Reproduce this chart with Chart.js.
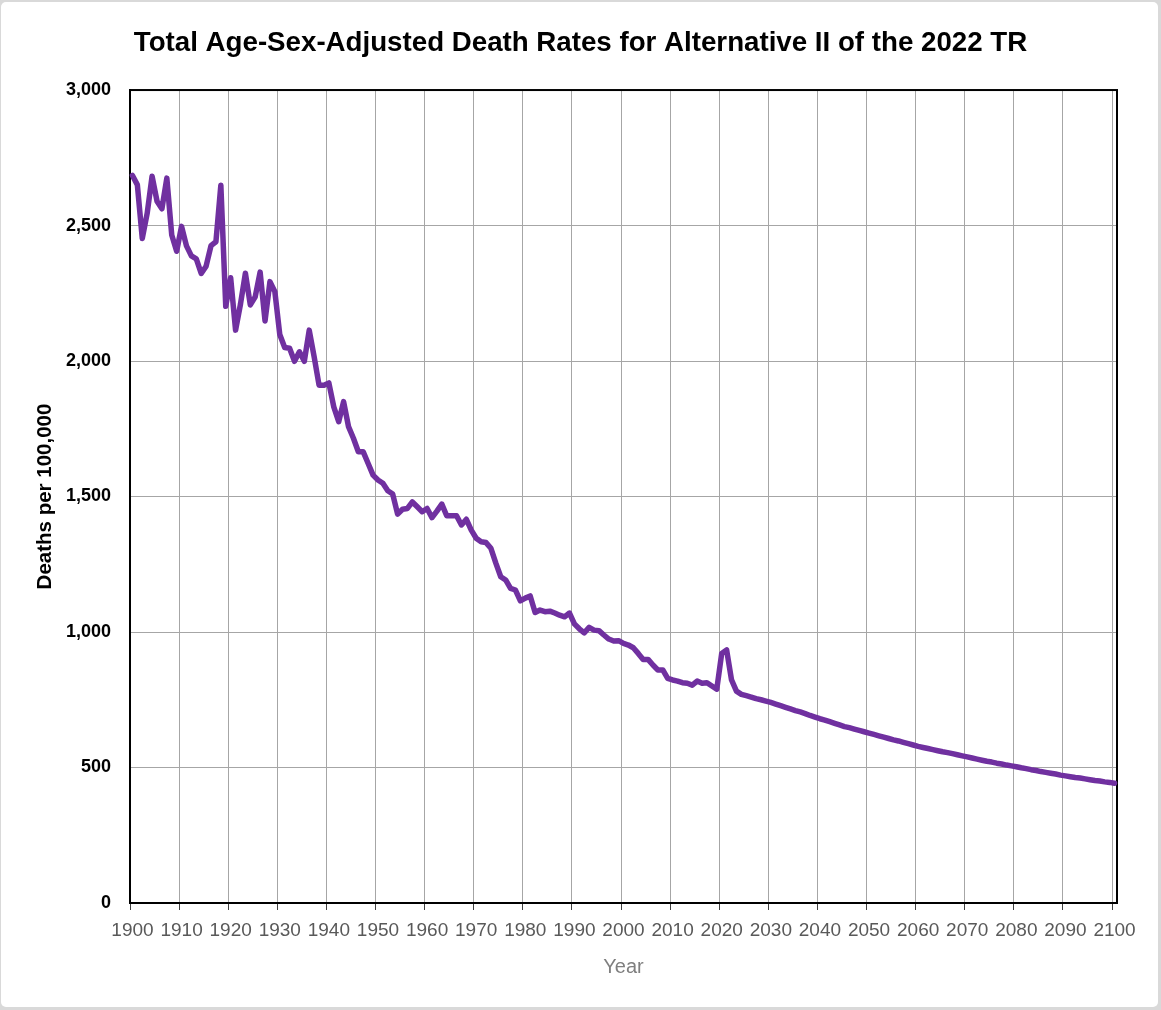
<!DOCTYPE html>
<html>
<head>
<meta charset="utf-8">
<title>Total Age-Sex-Adjusted Death Rates</title>
<script src="https://cdn.jsdelivr.net/npm/chart.js@4.4.1/dist/chart.umd.min.js"></script>
<style>
  html, body { margin: 0; padding: 0; background: #d9d9d9; }
  #frame {
    position: absolute; left: 1px; top: 2px; width: 1157px; height: 1005px;
    background: #fff; border-radius: 5px;
  }
  #chart { position: absolute; left: 0; top: 0; }
</style>
</head>
<body>
<div id="frame"></div>
<canvas id="chart" width="1161" height="1010"></canvas>
<script>
// years on the category axis, 1900..2100
const years = [];
for (let y = 1900; y <= 2100; y++) years.push(String(y));

// historical rates, deaths per 100,000 (1900-2021)
const histRates = [
  2685, 2650, 2452, 2545, 2682, 2590, 2562, 2675, 2465, 2405,
  2497, 2425, 2388, 2377, 2323, 2350, 2426, 2440, 2649, 2202,
  2307, 2114, 2210, 2324, 2207, 2237, 2328, 2148, 2293, 2256,
  2098, 2050, 2047, 1999, 2034, 1999, 2114, 2016, 1911, 1911,
  1919, 1831, 1776, 1850, 1758, 1715, 1665, 1665, 1622, 1579,
  1561, 1549, 1521, 1509, 1435, 1453, 1456, 1480, 1462, 1444,
  1456, 1422, 1446, 1472, 1429, 1429, 1429, 1395, 1416, 1376,
  1346, 1333, 1330, 1309, 1254, 1204, 1192, 1161, 1155, 1115,
  1125, 1133, 1072, 1081, 1075, 1077, 1070, 1062, 1056, 1070,
  1030, 1012, 997, 1017, 1007, 1005, 989, 974, 967, 968,
  958, 952, 942, 921, 899, 899, 878, 860, 860, 829,
  823, 819, 813, 811, 804, 819, 811, 813, 801, 789,
  921, 934
];

// projected rates, Alternative II (2022-2100)
const projRates = [
  823, 782, 770, 765, 760, 754, 750, 745,
  740, 734, 728, 722, 716, 710, 705, 699, 692, 686,
  680, 675, 669, 663, 657, 651, 647, 642, 637, 632,
  627, 622, 617, 612, 607, 602, 598, 593, 588, 583,
  578, 574, 570, 566, 562, 558, 555, 551, 547, 543,
  539, 535, 531, 527, 523, 520, 516, 513, 509, 506,
  503, 499, 496, 492, 489, 485, 482, 479, 476, 472,
  469, 466, 463, 461, 458, 455, 452, 450, 447, 445,
  442
];

const rates = histRates.concat(projRates);

const yTicks = [0, 500, 1000, 1500, 2000, 2500, 3000];

const FONT = "'Liberation Sans', Arial, sans-serif";

// black box around the plot area
const plotFrame = {
  id: "plotFrame",
  beforeDatasetsDraw(chart) {
    const { ctx, chartArea: a } = chart;
    ctx.save();
    ctx.strokeStyle = "#000";
    ctx.lineWidth = 2;
    ctx.strokeRect(a.left, a.top, a.right - a.left, a.bottom - a.top);
    ctx.restore();
  },
};

const isDecade = (i) => i % 10 === 0;

new Chart(document.getElementById("chart"), {
  type: "line",
  data: {
    labels: years,
    datasets: [
      {
        label: "Total age-sex-adjusted death rate",
        data: rates,
        borderColor: "#7030A0",
        borderWidth: 5.5,
        pointRadius: 0,
        tension: 0,
        borderJoinStyle: "round",
        borderCapStyle: "round",
      },
    ],
  },
  options: {
    responsive: false,
    animation: false,
    // equal side padding keeps the title centred where the reference has it
    layout: { padding: { left: 44, right: 44, top: 0, bottom: 0 } },
    plugins: {
      legend: { display: false },
      tooltip: { enabled: false },
      title: {
        display: true,
        text: "Total Age-Sex-Adjusted Death Rates for Alternative II of the 2022 TR",
        color: "#000",
        font: { family: FONT, size: 27.7, weight: "bold" },
        padding: { top: 26.4, bottom: 30.4 },
      },
    },
    scales: {
      x: {
        type: "category",
        offset: true,
        afterFit(s) { s.height = 107; },
        grid: {
          offset: true,
          color: (c) => (isDecade(c.index) ? "#a6a6a6" : "rgba(0,0,0,0)"),
          tickColor: (c) => (isDecade(c.index) ? "#404040" : "rgba(0,0,0,0)"),
          tickLength: 7,
          lineWidth: 1,
        },
        border: { color: "#000", width: 2 },
        ticks: {
          autoSkip: false,
          maxRotation: 0,
          minRotation: 0,
          padding: 9,
          color: "#595959",
          font: { family: FONT, size: 19 },
          callback(v, i) { return isDecade(i) ? years[i] : ""; },
        },
        title: {
          display: true,
          text: "Year",
          color: "#7f7f7f",
          font: { family: FONT, size: 20 },
          padding: { top: 0, bottom: 31 },
        },
      },
      y: {
        min: 0,
        max: 3000,
        afterFit(s) { s.width = 86; },
        afterBuildTicks(s) { s.ticks = yTicks.map((v) => ({ value: v })); },
        grid: { color: "#a6a6a6", lineWidth: 1, drawTicks: false },
        border: { color: "#000", width: 2 },
        ticks: {
          padding: 19,
          color: "#000",
          font: { family: FONT, size: 18, weight: "bold" },
        },
        title: {
          display: true,
          text: "Deaths per 100,000",
          color: "#000",
          font: { family: FONT, size: 20.5, weight: "bold" },
          padding: { top: -11.3, bottom: 0 },
        },
      },
    },
  },
  plugins: [plotFrame],
});
</script>
</body>
</html>
